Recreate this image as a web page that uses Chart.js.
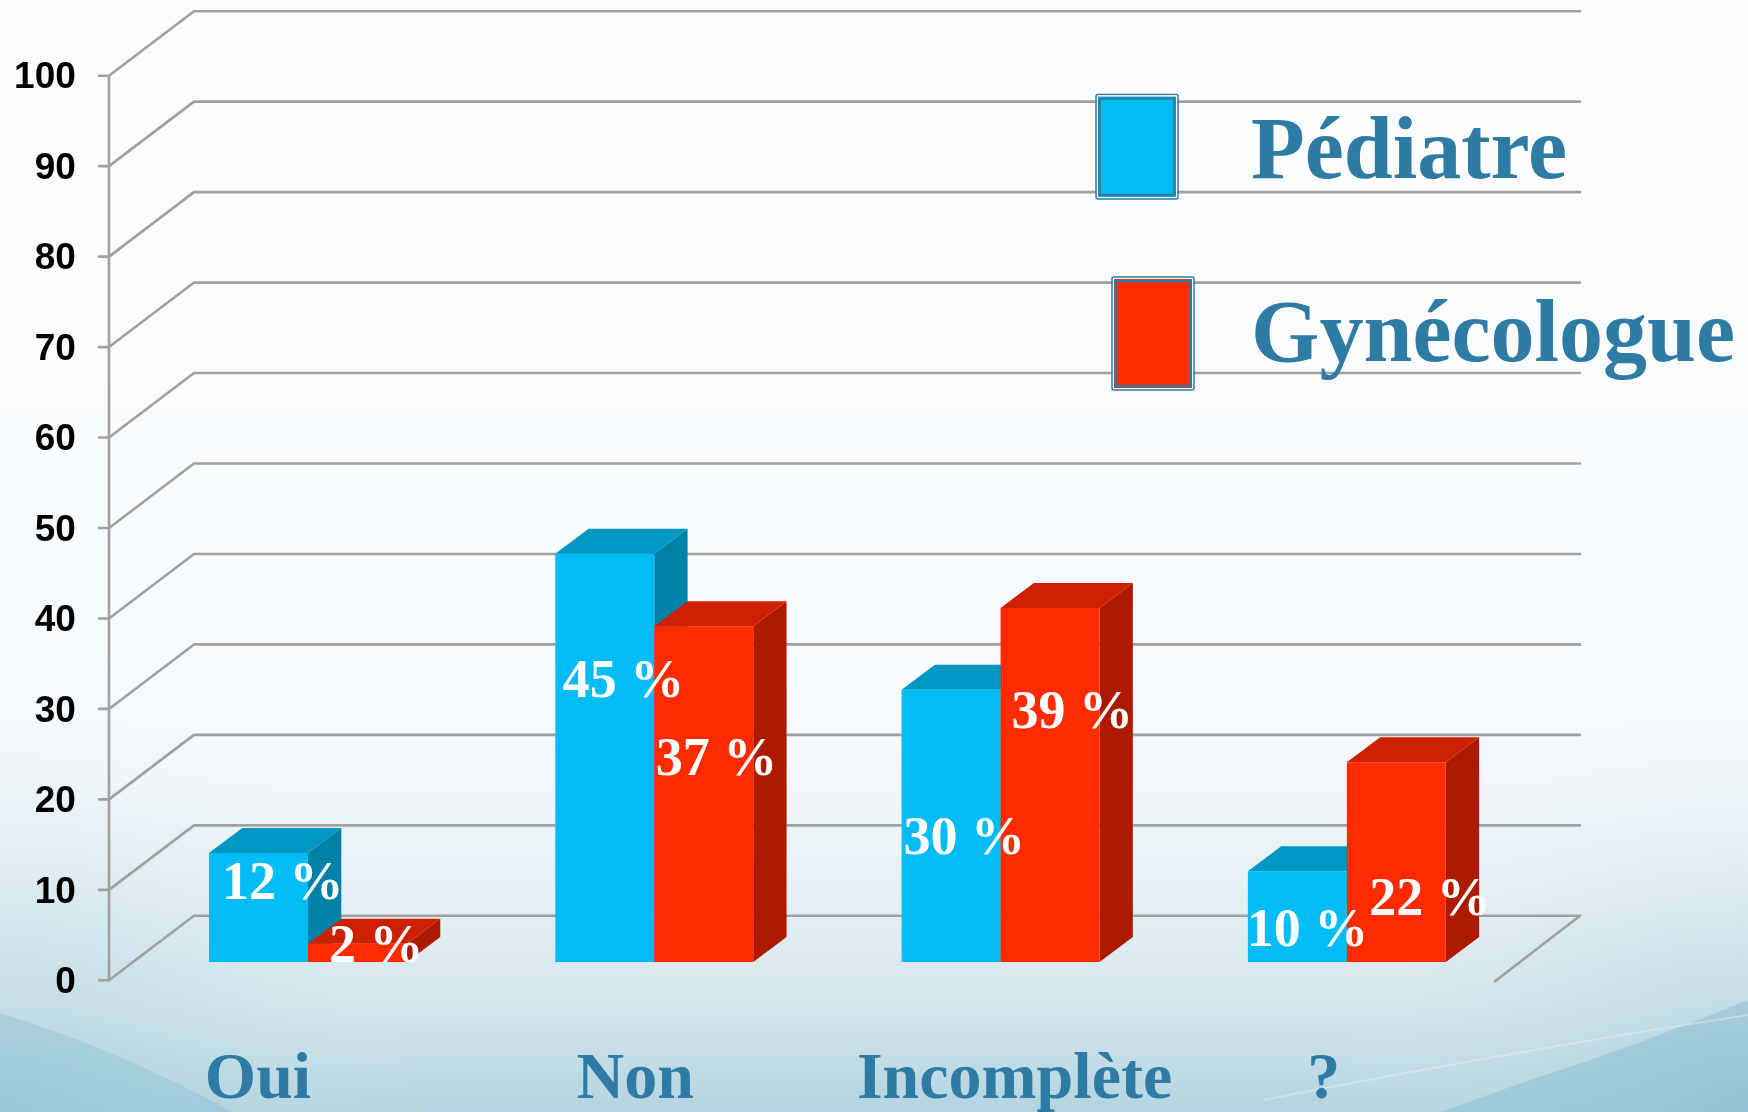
<!DOCTYPE html>
<html><head><meta charset="utf-8">
<script src="https://cdn.jsdelivr.net/npm/chart.js@4"></script>
<style>html,body{margin:0;padding:0;background:#fbfcfe}canvas{display:block}</style>
</head><body><canvas id="c" width="1748" height="1112"></canvas>
<script>
const categories = ['Oui', 'Non', 'Incomplète', '?'];
const seriesNames = ['Pédiatre', 'Gynécologue'];
const pediatre = [12, 45, 30, 10];
const gynecologue = [2, 37, 39, 22];

const TEAL = '#2e7ca3';
const SERIF = '"Liberation Serif", serif';
const DX = 33.3, DY = 25;             // bar depth
const WX = 85, WY = 64.5;             // wall depth
const faces = [
  {front:'#02bdf5', top:'#0097c2', side:'#0082a8'},
  {front:'#ff2a00', top:'#cc2000', side:'#ae1a00'}
];
const catLabelOffset = [-50, -19, 14, -23];
const valueOffset = [
  [[13,46],[7.5,143.5],[2,164],[-1,75]],
  [[21,18],[1.5,149],[11,120],[22.5,153]]
];

const deco = {
  id:'deco',
  beforeDraw(chart){
    const c = chart.ctx, W = chart.width, H = chart.height;
    const g = c.createLinearGradient(0,0,0,H);
    g.addColorStop(0,'#fbfcfe'); g.addColorStop(.6,'#f8fbfd');
    g.addColorStop(.70,'#f3f7fb'); g.addColorStop(.81,'#e4f0f4');
    g.addColorStop(.90,'#d5e7ed'); g.addColorStop(1,'#b3d4e0');
    c.fillStyle = g; c.fillRect(0,0,W,H);
    // left corner shading
    let r = c.createRadialGradient(0,1112,0,0,1112,430);
    r.addColorStop(0,'rgba(150,195,212,.45)'); r.addColorStop(.5,'rgba(180,215,225,.25)'); r.addColorStop(1,'rgba(220,238,242,0)');
    c.fillStyle = r; c.fillRect(0,680,430,432);
    c.fillStyle='rgba(135,188,207,.38)';
    c.beginPath(); c.moveTo(0,1013); c.quadraticCurveTo(120,1050,232,1112); c.lineTo(0,1112); c.closePath(); c.fill();
    // right corner shading
    r = c.createRadialGradient(1748,1112,0,1748,1112,430);
    r.addColorStop(0,'rgba(140,190,208,.45)'); r.addColorStop(.5,'rgba(180,215,225,.22)'); r.addColorStop(1,'rgba(220,238,242,0)');
    c.fillStyle = r; c.fillRect(1318,680,430,432);
    c.fillStyle='rgba(130,185,205,.45)';
    c.beginPath(); c.moveTo(1748,1000); c.quadraticCurveTo(1640,1045,1530,1080); c.lineTo(1440,1112); c.lineTo(1748,1112); c.closePath(); c.fill();
    c.strokeStyle='rgba(235,246,248,.4)'; c.lineWidth=2;
    c.beginPath(); c.moveTo(1748,1015); c.quadraticCurveTo(1520,1050,1263,1100); c.stroke();
    // walls
    const y = chart.scales.y, ax = y.right - 25.85;
    c.strokeStyle='#a0a0a0'; c.lineWidth=2.6; c.lineCap='round'; c.lineJoin='round';
    const backR = ax + WX + 1386;
    y.ticks.forEach(t=>{
      const p = y.getPixelForValue(t.value);
      c.beginPath(); c.moveTo(ax-10,p); c.lineTo(ax,p); c.lineTo(ax+WX,p-WY); c.lineTo(backR,p-WY); c.stroke();
    });
    c.beginPath(); c.moveTo(ax,y.getPixelForValue(0)); c.lineTo(ax,y.getPixelForValue(100)); c.stroke();
    const p0 = y.getPixelForValue(0);
    c.beginPath(); c.moveTo(backR,p0-WY); c.lineTo(backR-WX,p0+1); c.stroke();
  },
  beforeDatasetsDraw(chart){
    // Pédiatre first, then Gynécologue, so the red bars overlap the blue depth faces
    const c = chart.ctx;
    [0,1].forEach(index=>{
      const meta = chart.getDatasetMeta(index), f = faces[index];
      meta.data.forEach(b=>{
        const l=b.x-b.width/2, r=b.x+b.width/2, t=b.y, bt=b.base;
        c.fillStyle=f.side; c.beginPath();
        c.moveTo(r,t); c.lineTo(r+DX,t-DY); c.lineTo(r+DX,bt-DY); c.lineTo(r,bt); c.closePath(); c.fill();
        c.fillStyle=f.top; c.beginPath();
        c.moveTo(l,t); c.lineTo(l+DX,t-DY); c.lineTo(r+DX,t-DY); c.lineTo(r,t); c.closePath(); c.fill();
      });
      meta.controller.draw();
    });
    return false;
  },
  afterDraw(chart){
    const c = chart.ctx, x = chart.scales.x;
    // value labels
    c.save();
    c.beginPath(); c.rect(0,0,chart.width,chart.getDatasetMeta(0).data[0].base); c.clip();
    c.fillStyle='#fff'; c.font='bold 54px '+SERIF; c.textAlign='left'; c.textBaseline='alphabetic';
    chart.data.datasets.forEach((ds,i)=>{
      chart.getDatasetMeta(i).data.forEach((b,j)=>{
        const o = valueOffset[i][j];
        c.fillText(ds.data[j]+' %', b.x-b.width/2+o[0], b.y+o[1]);
      });
    });
    c.restore();
    // category labels
    c.textBaseline='alphabetic';
    c.fillStyle=TEAL; c.font='bold 66px '+SERIF; c.textAlign='center';
    categories.forEach((s,i)=>c.fillText(s, x.getPixelForTick(i)+catLabelOffset[i], 1098));
    // legend
    const swatch=(X,Y,W,H,col)=>{
      c.strokeStyle=TEAL; c.lineWidth=1.5;
      c.beginPath(); c.roundRect(X,Y,W,H,2); c.stroke();
      c.fillStyle='#fff'; c.fillRect(X+1,Y+1,W-2,H-2);
      c.fillStyle=col; c.fillRect(X+2,Y+2,W-4,H-4);
      c.lineWidth=2.5; c.strokeRect(X+3.5,Y+4,W-7,H-8);
    };
    swatch(1096,94.5,82,104.5,faces[0].front);
    swatch(1112,277,82,113,faces[1].front);
    c.fillStyle=TEAL; c.font='bold 88px '+SERIF; c.textAlign='left';
    c.fillText(seriesNames[0],1251,178);
    c.fillText(seriesNames[1],1251,360.5);
  }
};

new Chart(document.getElementById('c'),{
  type:'bar',
  plugins:[deco],
  data:{labels:categories,datasets:[
    {label:seriesNames[0],data:pediatre,backgroundColor:faces[0].front,yAxisID:'yBars'},
    {label:seriesNames[1],data:gynecologue,backgroundColor:faces[1].front,yAxisID:'yBars'}
  ]},
  options:{
    responsive:false,animation:false,
    layout:{padding:{top:75.7,right:228,left:0,bottom:0}},
    datasets:{bar:{categoryPercentage:0.5717,barPercentage:1}},
    plugins:{legend:{display:false},tooltip:{enabled:false}},
    scales:{
      x:{grid:{display:false},border:{display:false},ticks:{display:false},
         afterFit(s){s.height=131.7;s.paddingLeft=0;s.paddingRight=0;}},
      y:{min:0,max:100,position:'left',grid:{display:false},border:{display:false},
         ticks:{stepSize:10,padding:51,labelOffset:2.5,color:'#000',font:{family:'"Liberation Sans", sans-serif',weight:'bold',size:37}},
         afterFit(s){s.width=134.85;s.paddingTop=0;s.paddingBottom=0;}},
      yBars:{min:-2.02,max:97.68,display:false,position:'left'}
    }
  }
});
</script></body></html>
